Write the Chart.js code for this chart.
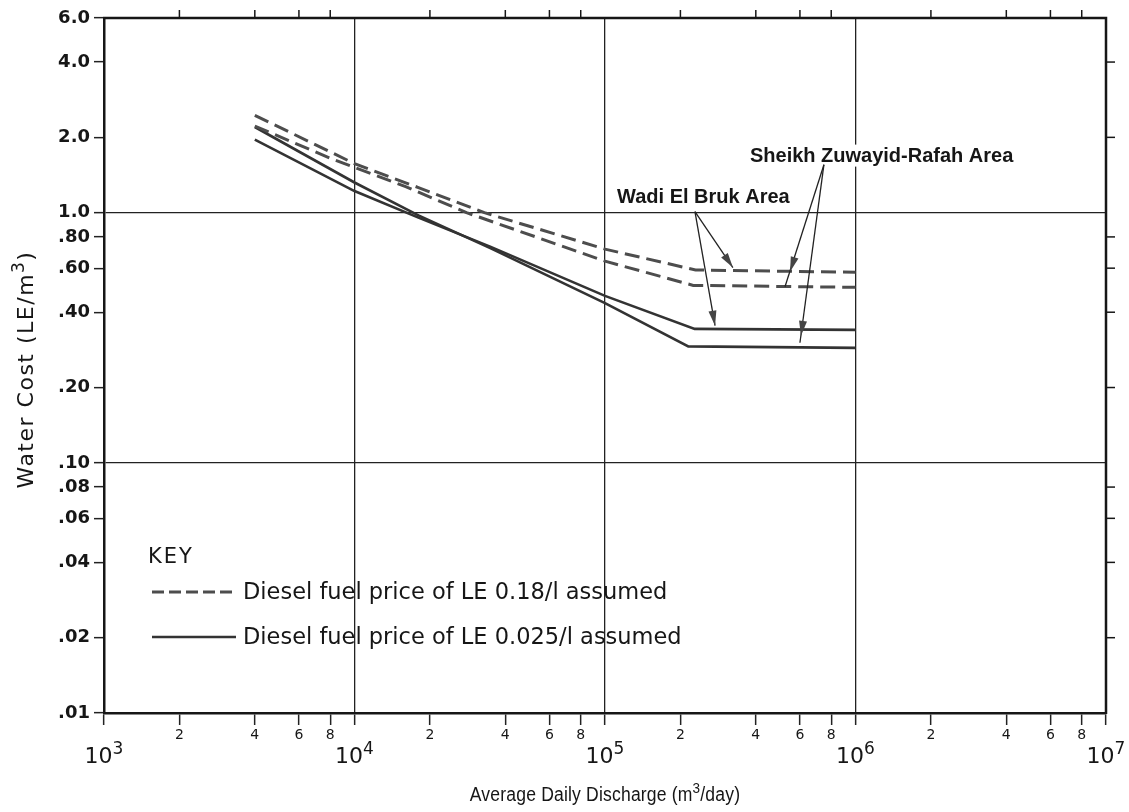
<!DOCTYPE html>
<html>
<head>
<meta charset="utf-8">
<title>Water Cost vs Average Daily Discharge</title>
<script src="https://cdn.jsdelivr.net/npm/chart.js@4.4.1/dist/chart.umd.min.js"></script>
<style>
  html, body { margin: 0; padding: 0; background: #fff; }
  #wrap { width: 1129px; height: 812px; }
</style>
</head>
<body>
<div id="wrap"><canvas id="chart" width="1129" height="812"></canvas></div>
<script>
// discharge (m3/day) against water cost (LE/m3)
const wadiHighFuelX = [4000, 10000, 18000, 33000, 100000, 230000, 1000000];
const wadiHighFuelY = [2.45, 1.57, 1.26, 1.0, 0.715, 0.59, 0.578];
const sheikhHighFuelX = [4000, 8000, 16000, 28000, 100000, 225000, 1000000];
const sheikhHighFuelY = [2.22, 1.65, 1.27, 1.0, 0.64, 0.512, 0.503];
const sheikhLowFuelX = [4000, 10000, 18000, 35000, 100000, 215000, 1000000];
const sheikhLowFuelY = [2.2, 1.32, 0.975, 0.72, 0.435, 0.292, 0.288];
const wadiLowFuelX = [4000, 10000, 18000, 35000, 100000, 228000, 1000000];
const wadiLowFuelY = [1.96, 1.22, 0.955, 0.73, 0.465, 0.343, 0.34];

// axes
const xTicks = [1e3, 2e3, 4e3, 6e3, 8e3, 1e4, 2e4, 4e4, 6e4, 8e4, 1e5, 2e5, 4e5, 6e5, 8e5,
  1e6, 2e6, 4e6, 6e6, 8e6, 1e7];
const xMinorLabels = ['', '2', '4', '6', '8', '', '2', '4', '6', '8', '', '2', '4', '6', '8',
  '', '2', '4', '6', '8', ''];
const xDecades = [1e3, 1e4, 1e5, 1e6, 1e7];
const xDecadeExp = ['3', '4', '5', '6', '7'];
const yTicks = [0.01, 0.02, 0.04, 0.06, 0.08, 0.1, 0.2, 0.4, 0.6, 0.8, 1, 2, 4, 6];
const yTickLabels = ['.01', '.02', '.04', '.06', '.08', '.10', '.20', '.40', '.60', '.80',
  '1.0', '2.0', '4.0', '6.0'];

// callouts: label anchor, arrow start, arrow ends (line end, head tip)
const wadiLabel = ['Wadi El Bruk Area', 111700, 1.096];
const wadiFrom = [228600, 1.01];
const wadiArrows = [
  [[324000, 0.603], [324000, 0.603]],
  [[275000, 0.3535], [275000, 0.3535]],
];
const sheikhLabel = ['Sheikh Zuwayid-Rafah Area', 379000, 1.6];
const sheikhFrom = [748000, 1.555];
const sheikhArrows = [
  [[523000, 0.506], [548000, 0.581]],
  [[600000, 0.302], [606000, 0.322]],
];

const keyTitle = 'KEY';
const keyLabels = ['Diesel fuel price of LE 0.18/l assumed', 'Diesel fuel price of LE 0.025/l assumed'];

const INK = '#161616';
const DASH_COL = '#4d4d4d';
const SOLID_COL = '#333';
const DASH = [15, 7];
const FONT = 'DejaVu Sans';

const pts = (xs, ys) => xs.map((x, i) => ({ x, y: ys[i] }));
const isDecade = (v) => Math.abs(Math.log10(v) - Math.round(Math.log10(v))) < 1e-9;

const dashed = (label, data) => ({
  label, data, borderColor: DASH_COL, borderWidth: 3, borderDash: DASH,
  pointRadius: 0, tension: 0, fill: false,
});
const solid = (label, data) => ({
  label, data, borderColor: SOLID_COL, borderWidth: 2.6,
  pointRadius: 0, tension: 0, fill: false,
});

// text with superscript pieces: parts = [[text, isSup], ...]
const drawRich = (ctx, parts, x, y, size, family, align, spacing = 0) => {
  const f = (sup) => `normal ${sup ? Math.round(size * 0.78) : size}px "${family}"`;
  ctx.letterSpacing = `${spacing}px`;
  const widths = parts.map(([t, sup]) => {
    ctx.font = f(sup);
    return ctx.measureText(t).width;
  });
  const total = widths.reduce((a, b) => a + b, 0);
  let cx = align === 'center' ? x - total / 2 : x;
  parts.forEach(([t, sup], i) => {
    ctx.font = f(sup);
    ctx.fillText(t, cx, sup ? y - size * 0.42 : y);
    cx += widths[i];
  });
  ctx.letterSpacing = '0px';
};

const arrow = (ctx, x0, y0, x1, y1, hx, hy) => {
  ctx.beginPath();
  ctx.moveTo(x0, y0);
  ctx.lineTo(x1, y1);
  ctx.stroke();
  const len = Math.hypot(x1 - x0, y1 - y0);
  const ux = (x1 - x0) / len, uy = (y1 - y0) / len;
  const bx = hx - ux * 15, by = hy - uy * 15;
  ctx.beginPath();
  ctx.moveTo(hx, hy);
  ctx.lineTo(bx - uy * 4, by + ux * 4);
  ctx.lineTo(bx + uy * 4, by - ux * 4);
  ctx.closePath();
  ctx.fill();
};

const extras = {
  id: 'extras',
  beforeDraw(chart) {
    const { ctx, width, height } = chart;
    ctx.save();
    ctx.fillStyle = '#fff';
    ctx.fillRect(0, 0, width, height);
    ctx.restore();
  },
  afterDraw(chart) {
    const { ctx, chartArea: a, scales: { x, y } } = chart;
    const px = (v) => x.getPixelForValue(v);
    const py = (v) => y.getPixelForValue(v);
    ctx.save();

    // top and right frame
    ctx.strokeStyle = INK;
    ctx.lineWidth = 2.5;
    ctx.beginPath();
    ctx.moveTo(a.left - 1, a.top);
    ctx.lineTo(a.right, a.top);
    ctx.lineTo(a.right, a.bottom + 1);
    ctx.stroke();

    // outward ticks on top and right
    ctx.lineWidth = 1.5;
    xTicks.forEach((v, i) => {
      if (!xMinorLabels[i]) return;
      ctx.beginPath();
      ctx.moveTo(px(v), a.top - 8);
      ctx.lineTo(px(v), a.top);
      ctx.stroke();
    });
    yTicks.forEach((v) => {
      if (isDecade(v) || v === 6) return;
      ctx.beginPath();
      ctx.moveTo(a.right, py(v));
      ctx.lineTo(a.right + 9, py(v));
      ctx.stroke();
    });

    // 10^n decade labels
    ctx.fillStyle = INK;
    ctx.textBaseline = 'alphabetic';
    xDecades.forEach((v, i) => {
      drawRich(ctx, [['10', false], [xDecadeExp[i], true]], px(v), 763, 22, FONT, 'center');
    });

    // axis titles (x title is a narrow face in the original, so squeeze it)
    ctx.save();
    ctx.translate((a.left + a.right) / 2, 801);
    ctx.scale(0.9, 1);
    drawRich(ctx, [['Average Daily Discharge (m', false], ['3', true], ['/day)', false]],
      0, 0, 19.5, 'Liberation Sans', 'center', 0.2);
    ctx.restore();
    ctx.save();
    ctx.translate(33, (a.top + a.bottom) / 2 + 4);
    ctx.rotate(-Math.PI / 2);
    drawRich(ctx, [['Water Cost (LE/m', false], ['3', true], [')', false]], 0, 0, 22, FONT, 'center', 1.5);
    ctx.restore();

    // callouts
    ctx.font = 'bold 20px "Liberation Sans"';
    const sw = ctx.measureText(sheikhLabel[0]).width;
    ctx.fillStyle = '#fff';
    ctx.fillRect(px(sheikhLabel[1]) - 2, py(sheikhLabel[2]) - 17, sw + 4, 22);
    ctx.fillStyle = INK;
    ctx.fillText(sheikhLabel[0], px(sheikhLabel[1]), py(sheikhLabel[2]));
    ctx.fillText(wadiLabel[0], px(wadiLabel[1]), py(wadiLabel[2]));

    ctx.strokeStyle = '#222';
    ctx.fillStyle = '#444';
    ctx.lineWidth = 1.3;
    [[wadiFrom, wadiArrows], [sheikhFrom, sheikhArrows]].forEach(([from, list]) => {
      list.forEach(([end, head]) => {
        arrow(ctx, px(from[0]), py(from[1]), px(end[0]), py(end[1]), px(head[0]), py(head[1]));
      });
    });

    // key
    ctx.fillStyle = INK;
    ctx.font = `normal 21px "${FONT}"`;
    ctx.letterSpacing = '2px';
    ctx.fillText(keyTitle, a.left + 44, 563);
    ctx.letterSpacing = '0px';
    const rows = [592, 637];
    rows.forEach((ry, i) => {
      ctx.strokeStyle = i === 0 ? DASH_COL : SOLID_COL;
      ctx.lineWidth = i === 0 ? 3 : 2.6;
      ctx.setLineDash(i === 0 ? [12, 5] : []);
      ctx.beginPath();
      ctx.moveTo(a.left + 48, ry);
      ctx.lineTo(a.left + 132, ry);
      ctx.stroke();
      ctx.setLineDash([]);
      ctx.font = `normal 22.5px "${FONT}"`;
      ctx.textBaseline = 'middle';
      ctx.fillText(keyLabels[i], a.left + 139, ry + 1);
      ctx.textBaseline = 'alphabetic';
    });

    ctx.restore();
  },
};

Chart.defaults.color = INK;
Chart.defaults.font.family = FONT;

new Chart(document.getElementById('chart').getContext('2d'), {
  type: 'line',
  data: {
    datasets: [
      dashed('Wadi El Bruk, LE 0.18/l', pts(wadiHighFuelX, wadiHighFuelY)),
      dashed('Sheikh Zuwayid-Rafah, LE 0.18/l', pts(sheikhHighFuelX, sheikhHighFuelY)),
      solid('Sheikh Zuwayid-Rafah, LE 0.025/l', pts(sheikhLowFuelX, sheikhLowFuelY)),
      solid('Wadi El Bruk, LE 0.025/l', pts(wadiLowFuelX, wadiLowFuelY)),
    ],
  },
  options: {
    responsive: false,
    animation: false,
    devicePixelRatio: 1,
    layout: { padding: { top: 18, right: 23, left: 0, bottom: 0 } },
    plugins: { legend: { display: false }, tooltip: { enabled: false } },
    scales: {
      x: {
        type: 'logarithmic',
        min: 1e3,
        max: 1e7,
        afterBuildTicks: (s) => {
          s.ticks = xTicks.map((v) => ({ value: v }));
        },
        afterFit: (s) => {
          s.height = 99;
        },
        ticks: {
          autoSkip: false,
          maxRotation: 0,
          padding: 2,
          color: INK,
          font: { family: FONT, size: 14 },
          callback: (v, i) => xMinorLabels[i],
        },
        grid: {
          color: (c) =>
            c.tick && isDecade(c.tick.value) && c.tick.value > 1e3 && c.tick.value < 1e7
              ? '#222'
              : 'rgba(0,0,0,0)',
          lineWidth: 1.3,
          tickLength: 12,
          tickColor: '#222',
          tickWidth: 1.5,
        },
        border: { color: INK, width: 2.5 },
      },
      y: {
        type: 'logarithmic',
        min: 0.01,
        max: 6,
        afterBuildTicks: (s) => {
          s.ticks = yTicks.map((v) => ({ value: v }));
        },
        afterFit: (s) => {
          s.width = 104;
        },
        ticks: {
          autoSkip: false,
          padding: 4,
          color: INK,
          font: { family: FONT, size: 18, weight: 'bold' },
          callback: (v, i) => yTickLabels[i],
        },
        grid: {
          color: (c) =>
            c.tick && isDecade(c.tick.value) && c.tick.value > 0.01 ? '#222' : 'rgba(0,0,0,0)',
          lineWidth: 1.3,
          tickLength: 10,
          tickColor: '#222',
          tickWidth: 1.5,
        },
        border: { color: INK, width: 2.5 },
      },
    },
  },
  plugins: [extras],
});
</script>
</body>
</html>
